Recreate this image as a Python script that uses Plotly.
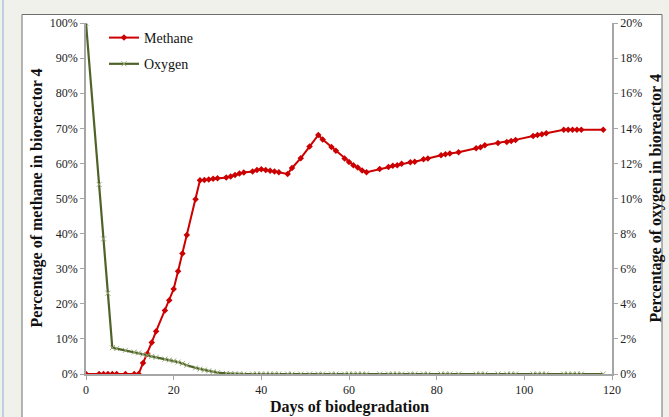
import plotly.graph_objects as go

# ---- data ----
days = [0, 3, 4, 5, 6, 7, 9, 11, 12, 13, 14, 15, 16, 18, 19, 20, 21, 22, 23, 25,
        26, 27, 28, 29, 30, 32, 33, 34, 35, 36, 38, 39, 40, 41, 42, 43, 44, 46,
        47, 49, 51, 53, 54, 56, 57, 59, 60, 61, 62, 63, 64, 67, 69, 70, 71, 72,
        74, 75, 77, 78, 81, 82, 83, 85, 89, 90, 91, 94, 96, 97, 98, 102, 103,
        104, 105, 109, 110, 111, 112, 113, 118]

methane = [0, 0, 0, 0, 0, 0, 0, 0, 0, 3.1, 5.8, 9.0, 12.2, 18.1, 21.0, 24.2, 29.3, 34.3, 39.6, 49.8,
           55.2, 55.3, 55.4, 55.6, 55.8, 56.0, 56.3, 56.7, 57.1, 57.4, 57.7, 58.1, 58.3, 58.1, 57.9, 57.7, 57.5, 57.0,
           58.7, 61.5, 64.8, 68.1, 66.8, 64.7, 63.6, 61.4, 60.4, 59.5, 58.8, 58.0, 57.5, 58.4, 59.0, 59.3, 59.5, 59.9,
           60.3, 60.5, 61.2, 61.4, 62.3, 62.6, 62.8, 63.2, 64.3, 64.6, 65.2, 65.8, 66.1, 66.4, 66.7, 67.8, 68.1,
           68.3, 68.6, 69.6, 69.6, 69.6, 69.6, 69.6, 69.6]

oxygen = [20.0, 10.8, 7.7, 4.6, 1.5, 1.45, 1.35, 1.25, 1.2, 1.12, 1.07, 1.0, 0.95, 0.85, 0.8, 0.75, 0.68, 0.6, 0.5, 0.35,
          0.28, 0.22, 0.18, 0.13, 0.08, 0.04, 0.02, 0, 0, 0, 0, 0, 0, 0, 0, 0, 0, 0,
          0, 0, 0, 0, 0, 0, 0, 0, 0, 0, 0, 0, 0, 0, 0, 0, 0, 0,
          0, 0, 0, 0, 0, 0, 0, 0, 0, 0, 0, 0, 0, 0, 0, 0, 0,
          0, 0, 0, 0, 0, 0, 0, 0]

x_ticks = [0, 20, 40, 60, 80, 100, 120]
left_ticks = list(range(0, 101, 10))
left_labels = [f"{v}%" for v in left_ticks]
right_ticks = list(range(0, 21, 2))
right_labels = [f"{v}%" for v in right_ticks]

FONT = "Liberation Serif"
AXIS_COL = "#a6a6a6"
TICK_COL = "#222222"

fig = go.Figure()
fig.add_trace(go.Scatter(
    x=days, y=methane, name="Methane", mode="lines+markers", legendgroup="m",
    line=dict(color="#cc0000", width=2),
    marker=dict(symbol="diamond", size=5, color="#cc0000"),
    yaxis="y"))
fig.add_trace(go.Scatter(
    x=days, y=oxygen, name="Oxygen", mode="lines+markers", legendgroup="o",
    line=dict(color="#4f6228", width=2.2),
    marker=dict(symbol="x-thin", size=5, color="#9aab7a",
                line=dict(color="#9aab7a", width=1)),
    yaxis="y2"))

W, H = 669, 417
L, R, T, B = 86, 57, 23, 43
pw, ph = W - L - R, H - T - B

def px(xp):
    return (xp - L) / pw

def py(yp):
    return (H - B - yp) / ph

fig.update_layout(
    width=W, height=H,
    margin=dict(l=L, r=R, t=T, b=B, autoexpand=False),
    paper_bgcolor="#f1f1ec", plot_bgcolor="white",
    font=dict(family=FONT, size=12, color=TICK_COL),
    showlegend=True,
    legend=dict(x=px(104), y=py(22), xanchor="left", yanchor="top",
                bgcolor="rgba(0,0,0,0)", font=dict(family=FONT, size=14, color="#111111"),
                itemwidth=30, tracegroupgap=5),
    xaxis=dict(range=[0, 120], tickmode="array", tickvals=x_ticks, showgrid=False, zeroline=False,
               showline=True, linecolor=AXIS_COL, linewidth=1.5,
               ticks="outside", ticklen=4, tickcolor=AXIS_COL,
               tickfont=dict(family=FONT, size=12, color=TICK_COL)),
    yaxis=dict(range=[0, 100], tickmode="array", tickvals=left_ticks, ticktext=left_labels,
               showgrid=False, zeroline=False, showline=True, linecolor=AXIS_COL, linewidth=1.5,
               ticks="outside", ticklen=4, tickcolor=AXIS_COL,
               tickfont=dict(family=FONT, size=12, color=TICK_COL)),
    yaxis2=dict(range=[0, 20], tickmode="array", tickvals=right_ticks, ticktext=right_labels,
                overlaying="y", side="right", showgrid=False, zeroline=False, showline=True,
                linecolor=AXIS_COL, linewidth=1.5, ticks="outside", ticklen=4,
                tickcolor=AXIS_COL,
                tickfont=dict(family=FONT, size=12, color=TICK_COL)),
    shapes=[
        dict(type="rect", xref="paper", yref="paper", layer="below",
             x0=px(22), x1=px(662), y0=py(430), y1=py(14.5),
             fillcolor="white", line=dict(color="#6e6e6e", width=1)),
        dict(type="line", xref="paper", yref="paper", layer="below",
             x0=px(3), x1=px(3), y0=py(0), y1=py(417),
             line=dict(color="#8faadc", width=1)),
    ],
    annotations=[
        dict(text="<b>Days of biodegradation</b>", xref="paper", yref="paper",
             x=0.5, y=py(407), xanchor="center", yanchor="middle", showarrow=False,
             font=dict(family=FONT, size=16, color="#111111")),
        dict(text="<b>Percentage of methane in bioreactor 4</b>", xref="paper", yref="paper",
             x=px(36), y=0.5, xanchor="center", yanchor="middle", showarrow=False,
             textangle=-90, font=dict(family=FONT, size=16, color="#111111")),
        dict(text="<b>Percentage of oxygen in bioreactor 4</b>", xref="paper", yref="paper",
             x=px(655), y=0.5, xanchor="center", yanchor="middle", showarrow=False,
             textangle=-90, font=dict(family=FONT, size=16, color="#111111")),
    ],
)

fig.write_html("out.html", config={"displayModeBar": False},
               post_script="document.body.style.margin='0';document.body.style.padding='0';"
                           "document.body.style.overflow='hidden';")
